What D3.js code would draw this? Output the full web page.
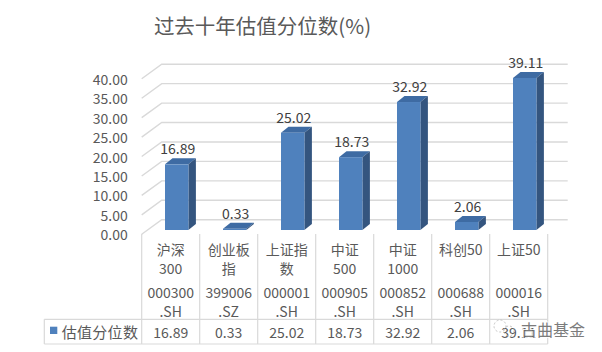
<!DOCTYPE html>
<html>
<head>
<meta charset="utf-8">
<script src="https://cdn.jsdelivr.net/npm/d3@7"></script>
<style>
  body { margin: 0; background: #fff; }
  svg { display: block; font-family: "Noto Sans CJK SC", "Noto Sans", sans-serif; }
</style>
</head>
<body>
<svg id="chart" width="602" height="352"></svg>
<script>
// data
const names = [['沪深', '300'], ['创业板', '指'], ['上证指', '数'], ['中证', '500'], ['中证', '1000'], ['科创50', ''], ['上证50', '']];
const codes = [['000300', '.SH'], ['399006', '.SZ'], ['000001', '.SH'], ['000905', '.SH'], ['000852', '.SH'], ['000688', '.SH'], ['000016', '.SH']];
const values = [16.89, 0.33, 25.02, 18.73, 32.92, 2.06, 39.11];
const yTicks = [0, 5, 10, 15, 20, 25, 30, 35, 40];
const seriesName = '估值分位数';

const svg = d3.select('#chart');
const txt = '#595959', lineCol = '#d9d9d9';

const x = d3.scaleBand()
    .domain(d3.range(values.length))
    .range([141.7, 547.7]);
const h = d3.scaleLinear()
    .domain([0, 40])
    .range([0, 155.5]);

const frontY = 234.3, barY = 230, backY = 219.7;
const depthX = 20;

// title
svg.append('text')
    .attr('x', 262.5).attr('y', 25)
    .attr('text-anchor', 'middle').attr('dominant-baseline', 'central')
    .attr('font-size', 20.5).attr('fill', txt)
    .text('过去十年估值分位数(%)');

// back wall gridlines
const grid = svg.append('g').attr('stroke', lineCol).attr('stroke-width', 1.4).attr('fill', 'none');
yTicks.forEach(t => {
  grid.append('path')
      .attr('d', `M${x.range()[0]},${frontY - h(t)}L${x.range()[0] + depthX},${backY - h(t)}H567.7`);
});

// y labels
svg.append('g').selectAll('text')
  .data(yTicks)
  .join('text')
    .attr('x', 127.7).attr('y', d => frontY - h(d))
    .attr('text-anchor', 'end').attr('dominant-baseline', 'central')
    .attr('font-size', 14).attr('fill', txt)
    .text(d => d.toFixed(2));

// bars
const bw = 23.4, sx = 7.5, sy = 6;
const bars = svg.append('g');
values.forEach((v, i) => {
  const cx = x(i) + x.bandwidth() / 2 + 6;
  const x0 = cx - bw / 2, x1 = cx + bw / 2;
  const top = barY - Math.max(h(v), 1.2);
  bars.append('path')
      .attr('fill', '#3e6ba3')
      .attr('d', `M${x0},${top}L${x0 + sx},${top - sy}H${x1 + sx}L${x1},${top}Z`);
  bars.append('path')
      .attr('fill', '#34557f')
      .attr('d', `M${x1},${top}L${x1 + sx},${top - sy}V${barY - sy}L${x1},${barY}Z`);
  bars.append('rect')
      .attr('x', x0).attr('y', top)
      .attr('width', bw).attr('height', barY - top)
      .attr('fill', '#4f81bd');
  bars.append('text')
      .attr('x', cx + 1).attr('y', top - sy - 10)
      .attr('text-anchor', 'middle').attr('dominant-baseline', 'central')
      .attr('font-size', 14).attr('fill', '#404040')
      .text(v.toFixed(2));
});

// data table
const tbl = svg.append('g').attr('stroke', lineCol).attr('stroke-width', 1.2);
d3.range(values.length + 1).forEach(i => {
  const xx = i < values.length ? x(i) : x.range()[1];
  tbl.append('line').attr('x1', xx).attr('x2', xx).attr('y1', 234).attr('y2', 344);
});
tbl.append('line').attr('x1', 44.3).attr('x2', 547.7).attr('y1', 319.3).attr('y2', 319.3);
tbl.append('line').attr('x1', 44.3).attr('x2', 547.7).attr('y1', 344).attr('y2', 344);
tbl.append('line').attr('x1', 44.3).attr('x2', 44.3).attr('y1', 319.3).attr('y2', 344);

const head = svg.append('g')
    .attr('font-size', 14).attr('fill', txt)
    .attr('text-anchor', 'middle').attr('dominant-baseline', 'central');
names.forEach((n, i) => {
  const cx = x(i) + x.bandwidth() / 2;
  head.append('text').attr('x', cx).attr('y', 249.3).text(n[0]);
  head.append('text').attr('x', cx).attr('y', 268.3).text(n[1]);
  head.append('text').attr('x', cx).attr('y', 292.3).text(codes[i][0]);
  head.append('text').attr('x', cx).attr('y', 310.7).text(codes[i][1]);
  head.append('text').attr('x', cx).attr('y', 331.5).text(values[i].toFixed(2));
});

// legend key
svg.append('rect')
    .attr('x', 50).attr('y', 326.7).attr('width', 7.3).attr('height', 7.3)
    .attr('fill', '#4f81bd');
svg.append('text')
    .attr('x', 61.7).attr('y', 331).attr('dominant-baseline', 'central')
    .attr('font-size', 15).attr('letter-spacing', 0.3).attr('fill', txt)
    .text(seriesName);

// watermark
const wm = svg.append('g').attr('opacity', 0.85);
wm.append('circle').attr('cx', 500).attr('cy', 326).attr('r', 6)
    .attr('fill', 'none').attr('stroke', '#bbb').attr('stroke-dasharray', '2,2');
wm.append('circle').attr('cx', 509).attr('cy', 331).attr('r', 5)
    .attr('fill', 'none').attr('stroke', '#bbb').attr('stroke-dasharray', '2,2');
wm.append('text')
    .attr('x', 521).attr('y', 329).attr('dominant-baseline', 'central')
    .attr('font-size', 16).attr('fill', '#666')
    .attr('stroke', '#fff').attr('stroke-width', 2).attr('paint-order', 'stroke')
    .text('古曲基金');
</script>
</body>
</html>
